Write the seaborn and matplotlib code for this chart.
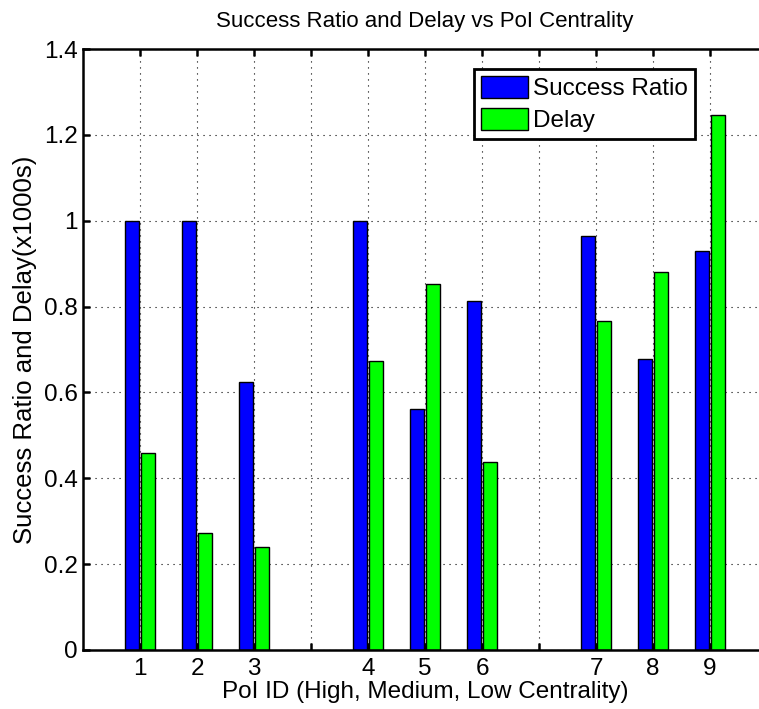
import matplotlib
matplotlib.use("Agg")
import matplotlib.pyplot as plt
from matplotlib.patches import Patch
import seaborn as sns
import pandas as pd

# ---- data ----
poi_ids = [1, 2, 3, 4, 5, 6, 7, 8, 9]
success_ratio = [1.0, 1.0, 0.625, 1.0, 0.562, 0.812, 0.964, 0.679, 0.929]
delay = [0.458, 0.272, 0.239, 0.673, 0.852, 0.438, 0.767, 0.880, 1.247]
series_names = ["Success Ratio", "Delay"]
series_colors = ["#0000ff", "#00ff00"]

# groups of three PoIs (High, Medium, Low centrality) separated by an empty slot
positions = [p + (p - 1) // 3 for p in poi_ids]
tick_positions = list(range(1, 12))
tick_labels = []
for t in tick_positions:
    if t in positions:
        tick_labels.append(str(poi_ids[positions.index(t)]))
    else:
        tick_labels.append("")

df = pd.DataFrame({
    "pos": positions * 2,
    "metric": [series_names[0]] * len(poi_ids) + [series_names[1]] * len(poi_ids),
    "value": success_ratio + delay,
})

sns.set_theme(style="white")
plt.rcParams["font.family"] = ["Liberation Sans", "DejaVu Sans"]
plt.rcParams["text.color"] = "black"
plt.rcParams["axes.labelcolor"] = "black"
plt.rcParams["xtick.color"] = "black"
plt.rcParams["ytick.color"] = "black"

W, H = 759, 709
fig = plt.figure(figsize=(W / 100, H / 100), dpi=100)
ax = fig.add_axes([83 / W, 1 - 650 / H, 684 / W, 601 / H])

sns.barplot(
    data=df, x="pos", y="value", hue="metric",
    hue_order=series_names, palette=dict(zip(series_names, series_colors)),
    native_scale=True, width=0.58, gap=0.18, dodge=True,
    edgecolor="black", linewidth=1.0, saturation=1.0,
    errorbar=None, legend=False, ax=ax,
)

ax.set_xlim(0, 12)
ax.set_ylim(0, 1.4)
ax.set_xticks(tick_positions)
ax.set_xticklabels(tick_labels)
ax.set_yticks([0, 0.2, 0.4, 0.6, 0.8, 1.0, 1.2, 1.4])
ax.set_yticklabels(["0", "0.2", "0.4", "0.6", "0.8", "1", "1.2", "1.4"])

ax.set_axisbelow(True)
ax.grid(True, color="black", linewidth=0.8, linestyle=(0, (1, 4.4)))

for s in ax.spines.values():
    s.set_linewidth(1.8)
    s.set_color("black")

FS = 17.5
ax.tick_params(axis="both", direction="in", length=5, width=1.8, colors="black",
               labelsize=FS, top=True, right=True, bottom=True, left=True)
ax.tick_params(axis="x", pad=5.5)
ax.tick_params(axis="y", pad=4)

ax.set_xlabel("PoI ID (High, Medium, Low Centrality)", fontsize=FS, color="black")
ax.xaxis.set_label_coords(0.5, (650 - 681) / 601)
ax.set_ylabel("Success Ratio and Delay(x1000s)", fontsize=18.5, color="black")
ax.yaxis.set_label_coords((37 - 83) / 684, 0.5)
ax.set_title("Success Ratio and Delay vs PoI Centrality", fontsize=16, pad=16, color="black")

handles = [Patch(facecolor=c, edgecolor="black", linewidth=1.0) for c in series_colors]
leg = ax.legend(handles, series_names, loc="upper right",
                bbox_to_anchor=(695 / W, 1 - 69 / H), bbox_transform=fig.transFigure,
                borderaxespad=0, fontsize=FS, handlelength=1.93, handleheight=1.0,
                handletextpad=0.2, labelspacing=0.3, borderpad=0.3,
                fancybox=False, framealpha=1, edgecolor="black")
leg.get_frame().set_linewidth(2.0)
for t in leg.get_texts():
    t.set_color("black")

fig.savefig("out.png", dpi=100)
